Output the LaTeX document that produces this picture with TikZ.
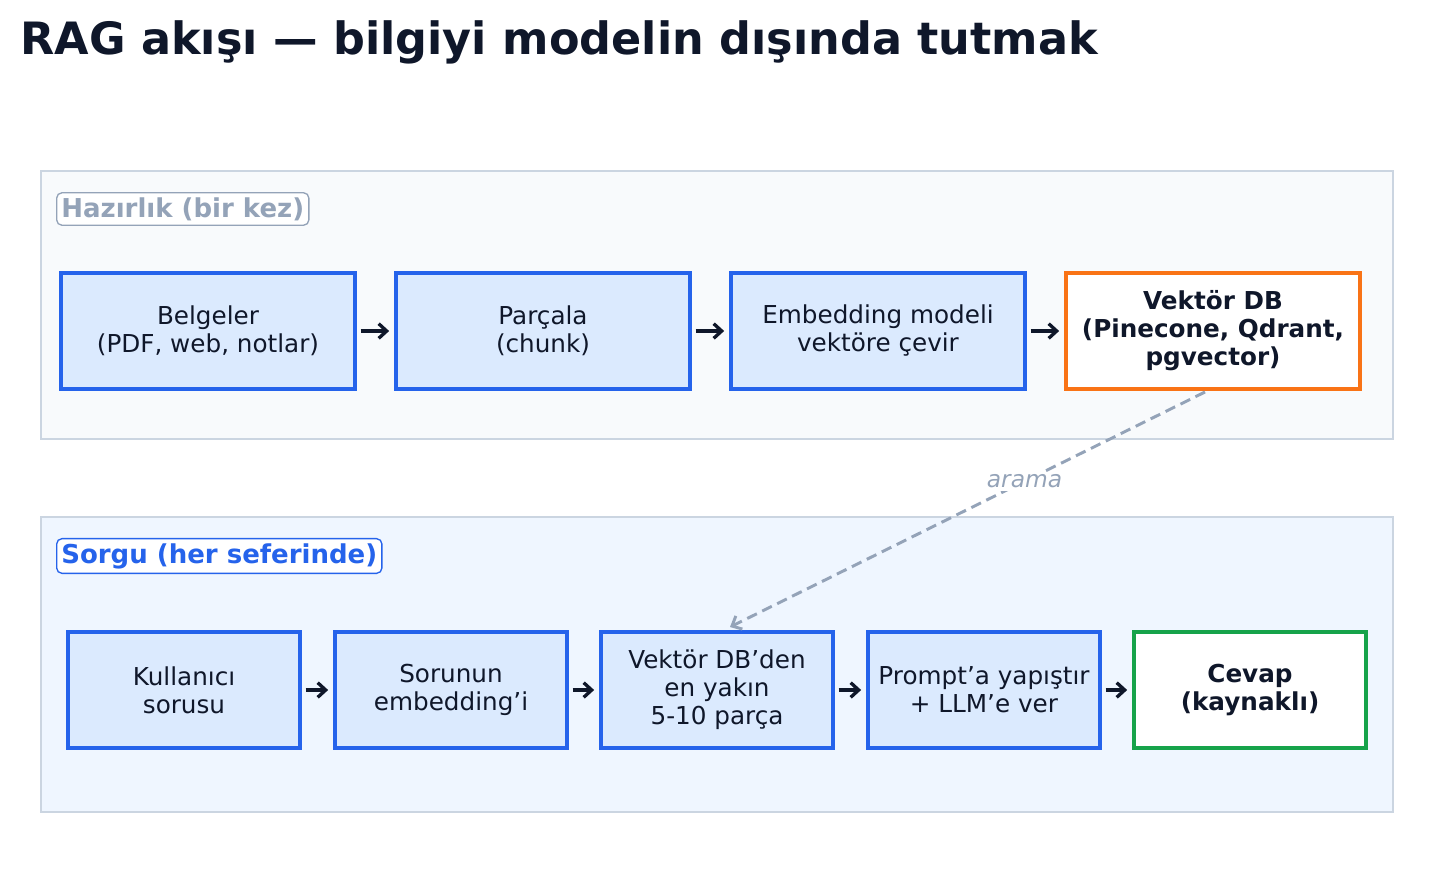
\documentclass[tikz,border=0pt]{standalone}
\usepackage{fontspec}
\setmainfont{DejaVu Sans}[Ligatures=ResetAll]
\usetikzlibrary{arrows.meta}
\definecolor{ink}{HTML}{0F172A}
\definecolor{blueS}{HTML}{2563EB}
\definecolor{blueF}{HTML}{DBEAFE}
\definecolor{grayS}{HTML}{CBD5E1}
\definecolor{grayT}{HTML}{94A3B8}
\definecolor{orng}{HTML}{F97316}
\definecolor{grn}{HTML}{16A34A}
\definecolor{p1}{HTML}{F8FAFC}
\definecolor{p2}{HTML}{EFF6FF}
\begin{document}
\begin{tikzpicture}[x=0.75pt,y=-0.75pt,
  panel/.style={draw=grayS,line width=1.3pt},
  tag/.style={draw,rounded corners=4pt,line width=1pt,fill=white,font=\fontsize{19.5}{23}\selectfont\bfseries,inner sep=3.5pt,anchor=west},
  box/.style={draw=blueS,fill=blueF,line width=2.3pt,align=center,text=ink,font=\fontsize{18.5}{21}\selectfont,minimum height=87pt,inner sep=0pt},
  w1/.style={minimum width=220.5pt},
  w2/.style={minimum width=174pt},
  flow/.style={-{Straight Barb[length=6pt,width=11pt]},line width=2.5pt,draw=ink,shorten <=3pt,shorten >=4pt}]
\useasboundingbox (0,0) rectangle (1434,871);
\node[anchor=base west,text=ink,font=\fontsize{33.4}{38}\selectfont\bfseries,inner sep=0pt] (title) at (20,54) {RAG akışı — bilgiyi modelin dışında tutmak};
\draw[panel,fill=p1] (41,171) rectangle (1393,439);
\draw[panel,fill=p2] (41,517) rectangle (1393,812);
\node[tag,draw=grayT,text=grayT] (t1) at (56,209) {Hazırlık (bir kez)};
\node[tag,draw=blueS,text=blueS] (t2) at (56,556) {Sorgu (her seferinde)};
\node[box,w1] (a1) at (208,331) {Belgeler\\(PDF, web, notlar)};
\node[box,w1] (a2) at (543,331) {Parçala\\(chunk)};
\node[box,w1] (a3) at (878,331) {Embedding modeli\\vektöre çevir};
\node[box,w1,fill=white,draw=orng,font=\fontsize{18.5}{21}\selectfont\bfseries] (a4) at (1213,331) {Vektör DB\\(Pinecone, Qdrant,\\pgvector)};
\node[box,w2] (b1) at (184,690) {Kullanıcı\\sorusu};
\node[box,w2] (b2) at (451,690) {Sorunun\\embedding'i};
\node[box,w2] (b3) at (717,690) {Vektör DB'den\\en yakın\\5-10 parça};
\node[box,w2] (b4) at (984,690) {Prompt'a yapıştır\\+ LLM'e ver};
\node[box,w2,fill=white,draw=grn,font=\fontsize{18.5}{21}\selectfont\bfseries] (b5) at (1250,690) {Cevap\\(kaynaklı)};
\foreach \p/\q in {a1/a2,a2/a3,a3/a4,b1/b2,b2/b3,b3/b4,b4/b5}
  \draw[flow] (\p) -- (\q);
\coordinate (s) at (1205,392);
\coordinate (e) at (730,627);
\draw[grayT,line width=2.2pt,dash pattern=on 8pt off 4.5pt,-{Straight Barb[length=6pt,width=11pt]}] (s) -- node[pos=0.38,fill=white,inner sep=2pt,font=\fontsize{17.5}{20}\selectfont\itshape,text=grayT] (lbl) {arama} (e);
\end{tikzpicture}
\end{document}
